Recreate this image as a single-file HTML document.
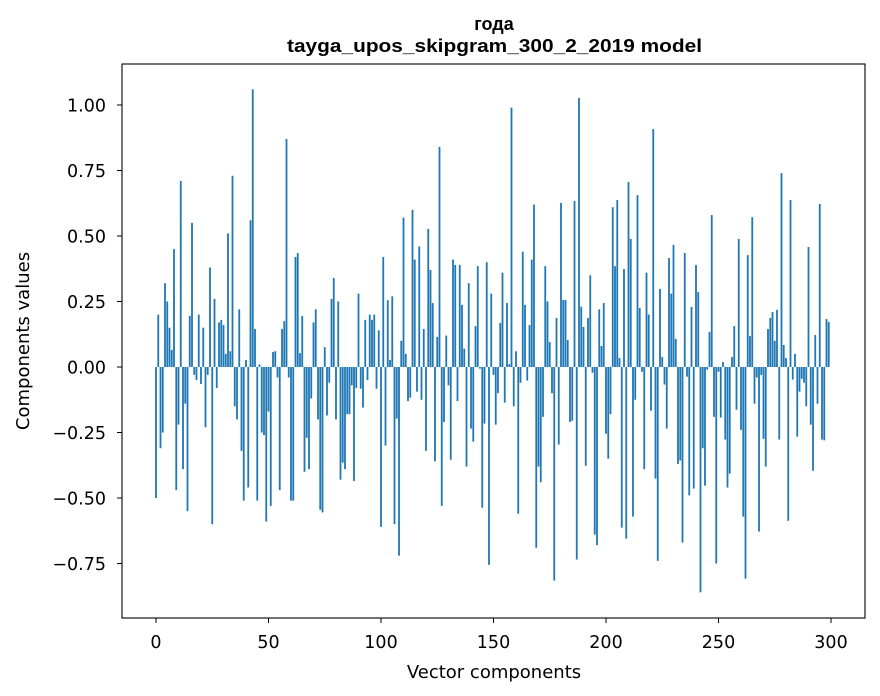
<!DOCTYPE html>
<html><head><meta charset="utf-8"><style>
body{margin:0;background:#fff;}
svg{display:block;font-family:"DejaVu Sans","Liberation Sans",sans-serif;}
.ttl{font-family:"Liberation Sans","DejaVu Sans",sans-serif;font-weight:bold;}
</style></head><body>
<svg id="chart" width="880" height="696" viewBox="0 0 880 696" xmlns="http://www.w3.org/2000/svg">
<rect x="0" y="0" width="880" height="696" fill="#fff"/>
<text class="ttl" x="494" y="30" font-size="18" text-anchor="middle">года</text>
<text class="ttl" x="287" y="52" font-size="18" textLength="415" lengthAdjust="spacingAndGlyphs">tayga_upos_skipgram_300_2_2019 model</text>
<g id="bars"></g>
<g id="axes"></g>
<rect x="122" y="64" width="743" height="554" fill="none" stroke="#000" stroke-width="1.1"/>
<text x="494" y="678" font-size="18" text-anchor="middle">Vector components</text>
<text x="29" y="341" font-size="18" text-anchor="middle" transform="rotate(-90 29 341)">Components values</text>
</svg>
<script>
const values = [
-0.50,0.20,-0.31,-0.25,0.32,0.25,0.15,0.065,0.45,-0.47,
-0.22,0.71,-0.39,-0.14,-0.55,0.195,0.55,-0.03,-0.05,0.20,
-0.065,0.15,-0.23,-0.03,0.38,-0.60,0.26,-0.08,0.17,0.18,
0.16,0.05,0.51,0.06,0.73,-0.15,-0.20,0.22,-0.32,-0.51,
0.027,-0.46,0.56,1.06,0.145,-0.51,0.01,-0.25,-0.26,-0.59,
-0.17,-0.53,0.057,0.06,-0.04,-0.47,0.145,0.175,0.87,-0.04,
-0.51,-0.51,0.42,0.435,0.053,0.195,-0.40,-0.27,-0.39,-0.12,
0.17,0.22,-0.20,-0.545,-0.555,0.076,-0.185,-0.06,0.26,0.34,
-0.20,0.25,-0.43,-0.365,-0.39,-0.18,-0.18,-0.07,-0.435,-0.08,
0.28,-0.083,-0.155,0.18,-0.05,0.20,0.18,0.20,-0.083,0.14,
-0.61,0.42,-0.30,0.255,0.027,0.27,-0.60,-0.197,-0.72,0.10,
0.57,0.05,-0.13,-0.117,0.60,0.41,-0.094,0.46,-0.125,0.145,
-0.32,0.527,0.37,0.244,-0.36,0.115,0.84,-0.53,-0.21,0.12,
-0.07,-0.354,0.41,0.39,-0.13,0.39,0.237,0.07,-0.38,0.32,
-0.235,-0.285,0.156,0.385,-0.006,-0.537,-0.216,0.40,-0.755,0.28,
-0.03,-0.22,-0.10,0.168,0.36,-0.136,0.244,0.011,0.99,-0.15,
0.06,-0.56,-0.06,0.44,0.237,-0.052,0.16,0.41,0.62,-0.69,
-0.38,-0.44,-0.19,0.385,0.25,0.095,-0.10,-0.815,0.187,-0.296,
0.626,0.256,0.256,0.103,-0.21,-0.205,0.634,-0.735,1.027,0.23,
0.153,-0.377,0.187,0.35,-0.022,-0.64,-0.68,0.22,0.08,0.244,
-0.255,-0.35,-0.18,0.61,0.385,0.637,0.034,-0.613,0.374,-0.655,
0.706,0.489,-0.571,-0.125,0.656,0.225,-0.018,-0.39,0.36,0.20,
-0.167,0.908,-0.426,-0.74,0.298,0.038,-0.067,-0.235,0.416,0.28,
0.466,0.107,-0.37,-0.357,-0.67,0.435,-0.037,-0.49,0.229,-0.464,
0.389,0.286,-0.86,-0.31,-0.453,-0.01,0.134,0.58,-0.19,-0.75,
-0.018,-0.193,0.019,-0.277,-0.46,-0.407,0.038,0.156,-0.163,0.489,
-0.24,-0.571,-0.808,0.427,0.118,0.572,-0.14,-0.04,-0.628,-0.03,
-0.274,-0.38,0.145,0.187,0.21,0.10,0.218,-0.277,0.74,0.084,
0.034,-0.587,0.637,-0.048,0.05,-0.266,-0.094,-0.045,-0.06,-0.15,
0.458,-0.22,-0.396,0.122,-0.14,0.622,-0.277,-0.28,0.183,0.172
];
const xTicks = [0,50,100,150,200,250,300];
const yTicks = [-0.75,-0.5,-0.25,0,0.25,0.5,0.75,1.0];
const yTickLabels = ["\u22120.75","\u22120.50","\u22120.25","0.00","0.25","0.50","0.75","1.00"];

const NS = "http://www.w3.org/2000/svg";
const xScale = v => 156 + v * 2.25;
const yScale = v => 367 - v * 262;
const barsG = document.getElementById('bars');
values.forEach((v, i) => {
  const r = document.createElementNS(NS, 'rect');
  const y0 = yScale(0), y1 = yScale(v);
  r.setAttribute('x', xScale(i - 0.4));
  r.setAttribute('width', 2.25 * 0.8);
  r.setAttribute('y', Math.min(y0, y1));
  r.setAttribute('height', Math.max(Math.abs(y1 - y0), 0.3));
  r.setAttribute('fill', '#1f77b4');
  
  
  barsG.appendChild(r);
});
const axesG = document.getElementById('axes');
xTicks.forEach(t => {
  const x = xScale(t);
  const l = document.createElementNS(NS, 'line');
  l.setAttribute('x1', x); l.setAttribute('x2', x);
  l.setAttribute('y1', 618); l.setAttribute('y2', 623);
  l.setAttribute('stroke', '#000');
  
  
  axesG.appendChild(l);
  const tx = document.createElementNS(NS, 'text');
  tx.setAttribute('x', x); tx.setAttribute('y', 648);
  tx.setAttribute('font-size', '17.5'); tx.setAttribute('text-anchor', 'middle');
  tx.textContent = String(t);
  
  
  axesG.appendChild(tx);
});
yTicks.forEach((t, k) => {
  const y = yScale(t);
  const l = document.createElementNS(NS, 'line');
  l.setAttribute('x1', 117); l.setAttribute('x2', 122);
  l.setAttribute('y1', y); l.setAttribute('y2', y);
  l.setAttribute('stroke', '#000');
  
  
  axesG.appendChild(l);
  const tx = document.createElementNS(NS, 'text');
  tx.setAttribute('x', 106); tx.setAttribute('y', y + 6.5);
  tx.setAttribute('font-size', '17.5'); tx.setAttribute('text-anchor', 'end');
  tx.textContent = yTickLabels[k];
  
  
  axesG.appendChild(tx);
});
</script>
</body></html>
